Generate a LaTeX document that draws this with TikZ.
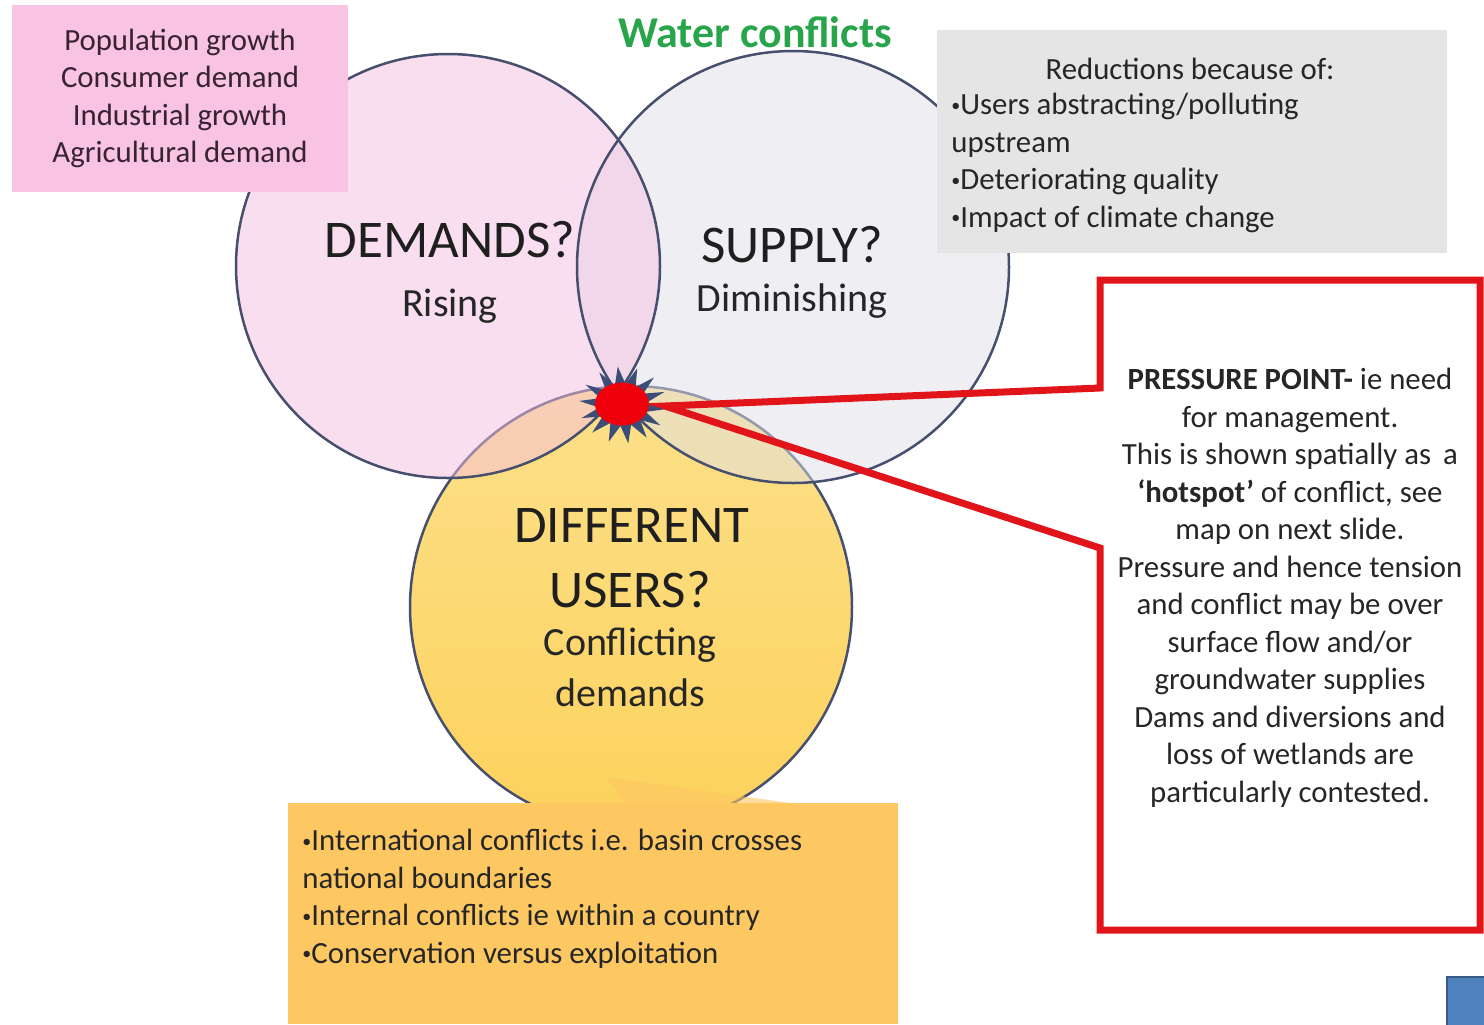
\documentclass[tikz,border=0pt]{standalone}
\usepackage{fontspec}
\setmainfont{Carlito}
\usetikzlibrary{shapes.geometric}
\newcommand\smallfs{\fontsize{15.4pt}{18.75pt}\selectfont}
\newcommand\bigfs{\fontsize{26.5pt}{32pt}\selectfont}
\newcommand\midfs{\fontsize{20pt}{24pt}\selectfont}
\newcommand\titlefs{\fontsize{22pt}{26pt}\selectfont}
\newcommand\sbul{\raisebox{0.12em}{\fontsize{9pt}{9pt}\selectfont•}}
\definecolor{pinkfill}{RGB}{245,191,225}
\definecolor{grayfill}{RGB}{224,224,232}
\definecolor{usertop}{RGB}{252,224,138}
\definecolor{userbot}{RGB}{253,210,92}
\definecolor{ringcol}{RGB}{70,80,110}
\definecolor{pinkbox}{RGB}{249,195,227}
\definecolor{graybox}{RGB}{229,229,229}
\definecolor{orangebox}{RGB}{253,200,98}
\definecolor{titlegreen}{RGB}{40,165,75}
\definecolor{txt}{RGB}{38,38,38}
\definecolor{pinktxt}{RGB}{55,35,50}
\definecolor{starblue}{RGB}{60,78,120}
\definecolor{hotred}{RGB}{240,0,10}
\definecolor{callred}{RGB}{225,20,25}
\definecolor{navblue}{RGB}{79,129,189}
\definecolor{navdark}{RGB}{56,93,138}
\begin{document}
\begin{tikzpicture}[x=0.5pt,y=-0.5pt,
  ring/.style={draw=ringcol, line width=1.25pt},
  txtnode/.style={inner sep=0pt, text=txt},
  bigtxt/.style={txtnode, font=\bigfs, text=black!88},
  midtxt/.style={txtnode, font=\midfs, text=black!85},
  boxnode/.style={inner sep=0pt, outer sep=0pt, draw=none}]
\useasboundingbox (0,0) rectangle (1484,1024);
\fill[white] (0,0) rectangle (1484,1024);

% circle centres
\coordinate (cD) at (448,266);
\coordinate (cS) at (793,267);
\coordinate (cU) at (631,607);

% users circle (drawn first, under the translucent ones)
\shade[top color=usertop, bottom color=userbot] (cU) circle[radius=110.5pt];
\draw[ring] (cU) circle[radius=110.5pt];

% supply and demands circles
\fill[grayfill, fill opacity=0.5] (cS) circle[radius=108pt];
\fill[pinkfill, fill opacity=0.5] (cD) circle[radius=106pt];
\draw[ring] (cD) circle[radius=106pt];
\draw[ring] (cS) circle[radius=108pt];

% hotspot star
\fill[starblue] plot[samples at={0,...,27}]
  ({623+(34+10*cos(180*\x))*cos(\x*360/28+6)},
   {405+0.88*(34+10*cos(180*\x))*sin(\x*360/28+6)}) -- cycle;
\node[ellipse, fill=hotred, minimum width=27pt, minimum height=21.5pt, inner sep=0pt] (hot) at (622,404) {};
\coordinate (tip) at (665,406);

% red callout
\draw[callred, line width=3.5pt, line join=miter]
  (1100,280) -- (1480,280) -- (1480,930) -- (1100,930) -- (1100,548)
  -- (tip) -- (1100,388) -- cycle;
\node[txtnode, font=\smallfs, align=center] (pp) at (1290,588)
 {\textbf{PRESSURE POINT-} ie need\\
  for management.\\
  This is shown spatially as \,a\\
  \textbf{‘hotspot’} of conflict, see\\
  map on next slide.\\
  Pressure and hence tension\\
  and conflict may be over\\
  surface flow and/or\\
  groundwater supplies\\
  Dams and diversions and\\
  loss of wetlands are\\
  particularly contested.};

% title
\node[inner sep=0pt, font=\titlefs\bfseries, text=titlegreen] (title) at (755,32) {Water conflicts};

% pink box
\node[boxnode, fill=pinkbox, minimum width=168pt, minimum height=93.5pt,
      font=\smallfs, text=pinktxt, align=center] (pinkb) at (180,98.5)
 {Population growth\\Consumer demand\\Industrial growth\\Agricultural demand};

% gray box
\node[boxnode, fill=graybox, minimum width=255pt, minimum height=111.5pt] (grayb) at (1192,141.5) {};
\node[txtnode, font=\smallfs] (grayh) at (1190,69) {Reductions because of:};
\node[txtnode, font=\smallfs, align=left, anchor=west] (grayl) at (951,163)
 {\sbul Users abstracting/polluting\\upstream\\\sbul Deteriorating quality\\\sbul Impact of climate change};

% orange box
\fill[orangebox, fill opacity=0.6] (605,777) -- (625,803) -- (790,803) -- cycle;
\node[boxnode, fill=orangebox, minimum width=305pt, minimum height=110.5pt] (orangeb) at (593,913.5) {};
\node[txtnode, font=\smallfs, align=left, anchor=west] (orangel) at (302,899)
 {\sbul International conflicts i.e. basin crosses\\national boundaries\\\sbul Internal conflicts ie within a country\\\sbul Conservation versus exploitation};

% circle labels
\node[bigtxt] (dem) at (450,240) {DEMANDS?};
\node[midtxt] (rise) at (450,306) {Rising};
\node[bigtxt] (sup) at (792,245) {SUPPLY?};
\node[midtxt] (dim) at (792,301) {Diminishing};
\node[bigtxt] (diff) at (632,525) {DIFFERENT};
\node[bigtxt] (users) at (630,590) {USERS?};
\node[midtxt] (confl) at (630,645) {Conflicting};
\node[midtxt] (dems) at (630,693) {demands};

% navigation icon corner
\fill[navblue, draw=navdark, line width=1pt] (1447,977) rectangle (1490,1030);
\end{tikzpicture}
\end{document}
